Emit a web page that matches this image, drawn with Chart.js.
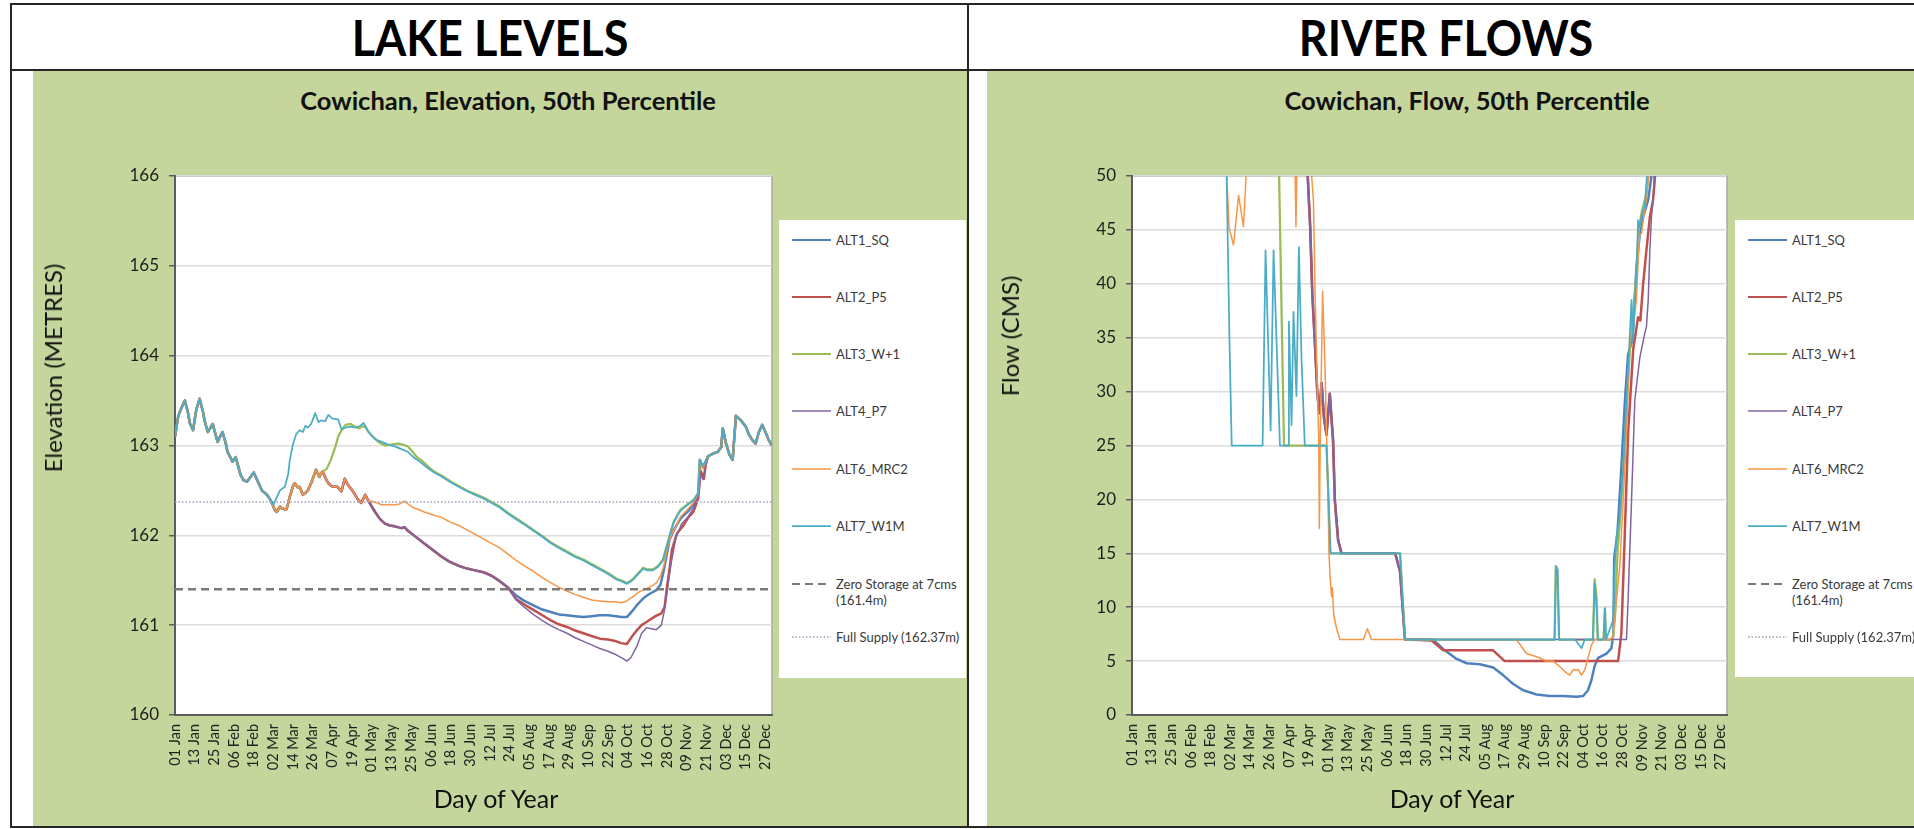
<!DOCTYPE html>
<html>
<head>
<meta charset="utf-8">
<title>Cowichan Lake Levels and River Flows</title>
<script src="https://cdn.jsdelivr.net/npm/chart.js@4.4.1/dist/chart.umd.min.js"></script>
<style>
  html, body { margin: 0; padding: 0; background: #fff; width: 1914px; height: 829px; overflow: hidden; font-family: Lato, "Noto Sans", sans-serif; }
  .rule { position: absolute; background: #262626; }
  .panel { position: absolute; background: #C4D69B; }
  .head { position: absolute; top: 12px; font-size: 50px; line-height: 50px; font-weight: 700; color: #000; white-space: nowrap; transform: translateX(-50%) scaleX(0.9); }
  .sub { position: absolute; top: 88px; font-size: 25.5px; line-height: 25.5px; font-weight: 700; color: #111; white-space: nowrap; transform: translateX(-50%); }
  .xtitle { position: absolute; top: 786px; font-size: 25px; line-height: 25px; color: #111; white-space: nowrap; transform: translateX(-50%); }
  .ytitle { position: absolute; font-size: 24px; line-height: 24px; color: #111; white-space: nowrap; transform: translate(-50%, -50%) rotate(-90deg); }
  canvas { position: absolute; }
  .legend { position: absolute; background: #fff; }
  .lg-item { position: absolute; left: 0; height: 16px; }
  .lg-item svg { position: absolute; left: 13px; top: 5px; }
  .lg-item span { position: absolute; left: 57px; top: 0; font-size: 13px; line-height: 16px; color: #3a3a3a; white-space: pre; }
</style>
</head>
<body>
  <!-- page frame -->
  <div class="rule" style="left:10px; top:3px; width:1904px; height:2px;"></div>
  <div class="rule" style="left:10px; top:69px; width:1904px; height:2px;"></div>
  <div class="rule" style="left:10px; top:826px; width:1904px; height:2px;"></div>
  <div class="rule" style="left:10px; top:3px; width:2px; height:825px;"></div>
  <div class="rule" style="left:967px; top:3px; width:2px; height:825px;"></div>

  <div class="head" style="left:490px;">LAKE LEVELS</div>
  <div class="head" style="left:1446px;">RIVER FLOWS</div>

  <div class="panel" style="left:33px; top:71px; width:934px; height:755px;"></div>
  <div class="panel" style="left:987px; top:71px; width:927px; height:755px;"></div>

  <div class="sub" style="left:508px;">Cowichan, Elevation, 50th Percentile</div>
  <div class="sub" style="left:1467px;">Cowichan, Flow, 50th Percentile</div>

  <canvas id="lakeChart" width="933" height="755" style="left:33px; top:72px;"></canvas>
  <canvas id="flowChart" width="927" height="755" style="left:987px; top:72px;"></canvas>

  <div class="ytitle" style="left:53px; top:368px;">Elevation (METRES)</div>
  <div class="ytitle" style="left:1010px; top:336px;">Flow (CMS)</div>
  <div class="xtitle" style="left:496px;">Day of Year</div>
  <div class="xtitle" style="left:1452px;">Day of Year</div>

  <div class="legend" id="lakeLegend" style="left:779px; top:220px; width:187px; height:458px;"></div>
  <div class="legend" id="flowLegend" style="left:1735px; top:220px; width:179px; height:457px;"></div>

<script>
// ---- axis ticks (day of year, non-leap year) ----
const tickDays = [1, 13, 25, 37, 49, 61, 73, 85, 97, 109, 121, 133, 145, 157, 169, 181,
                  193, 205, 217, 229, 241, 253, 265, 277, 289, 301, 313, 325, 337, 349, 361];
const tickLabels = ['01 Jan', '13 Jan', '25 Jan', '06 Feb', '18 Feb', '02 Mar', '14 Mar', '26 Mar',
                    '07 Apr', '19 Apr', '01 May', '13 May', '25 May', '06 Jun', '18 Jun', '30 Jun',
                    '12 Jul', '24 Jul', '05 Aug', '17 Aug', '29 Aug', '10 Sep', '22 Sep', '04 Oct',
                    '16 Oct', '28 Oct', '09 Nov', '21 Nov', '03 Dec', '15 Dec', '27 Dec'];

const seriesNames = ['ALT1_SQ', 'ALT2_P5', 'ALT3_W+1', 'ALT4_P7', 'ALT6_MRC2', 'ALT7_W1M'];
const refNames = ['Zero Storage at 7cms\n(161.4m)', 'Full Supply (162.37m)'];
const zeroStorage = 161.4;   // m
const fullSupply = 162.37;   // m

// ---- lake elevation, metres, as [day, value] ----
const lakeWinter = [[1,163.10],[3,163.33],[5,163.42],[7,163.50],[9,163.36],[10,163.25],[12,163.17],[14,163.40],
  [16,163.52],[18,163.38],[19,163.28],[21,163.15],[22,163.18],[24,163.24],[25,163.17],[27,163.04],[29,163.12],
  [30,163.15],[32,163.02],[33,162.93],[35,162.86],[36,162.82],[38,162.87],[40,162.74],[41,162.67],[43,162.61],
  [45,162.60],[47,162.65],[49,162.70],[51,162.62],[52,162.58],[54,162.50],[56,162.47],[58,162.43]];
const lakeSpringEarly = [[60,162.36],[62,162.28],[63,162.26],[65,162.32],[66,162.30],[68,162.29],[69,162.29],
  [71,162.43],[73,162.55],[74,162.58],[76,162.53],[77,162.54],[79,162.45],[81,162.48],[82,162.50],[84,162.58],
  [86,162.68],[87,162.73],[89,162.65],[90,162.69]];
const lakeSpringLate = [[91,162.71],[93,162.63],[94.5,162.58],[97,162.54],[100,162.54],[102.5,162.49],
  [104.5,162.63],[106.5,162.56],[109.5,162.49],[112.5,162.40],[114.5,162.36],[117,162.45],[119,162.38]];
const lakeSummerLow = [[121,162.32],[123,162.26],[126,162.18],[129,162.13],[132,162.11],[135,162.10],[139,162.08],
  [141,162.09],[143,162.05],[148,161.98],[153,161.91],[158,161.84],[163,161.77],[168,161.71],[174,161.66],
  [179,161.63],[184,161.61],[189,161.59],[194,161.55],[199,161.49],[204,161.42]];
const lakeTail = [[326,162.88],[329,162.91],[332,162.93],[334,162.98],[335,163.19],[337,163.02],[339,162.90],
  [341,162.84],[343,163.33],[346,163.28],[349,163.21],[351,163.12],[353,163.06],[355,163.02],[357,163.15],
  [359,163.23],[361,163.15],[363,163.06],[365,163.00]];

const lakeAlt1Fall = [[209,161.33],[214,161.27],[219.5,161.22],[224,161.18],[229.5,161.15],[235,161.12],[240,161.11],
  [245,161.10],[250,161.09],[255,161.10],[260,161.11],[265,161.11],[270,161.10],[273,161.09],[276.5,161.09],
  [279.5,161.15],[282.5,161.22],[285.5,161.28],[288,161.32],[290.5,161.35],[294.5,161.39],[297,161.45],
  [299,161.61],[301,161.80],[302.5,161.95],[305,162.05],[307,162.12],[309,162.18],[311,162.22],[314,162.27],
  [317,162.34],[320,162.47],[321,162.84],[323,162.75],[324,162.80]];
const lakeAlt2Fall = [[209,161.29],[214,161.23],[219.5,161.17],[225,161.11],[229.5,161.06],[235,161.01],[240,160.98],
  [245,160.94],[250,160.91],[255,160.88],[260,160.85],[265,160.84],[270,160.82],[273,160.80],[276.5,160.79],
  [279.5,160.87],[282,160.93],[285.5,161.00],[288,161.03],[290.5,161.06],[294,161.10],[297.5,161.13],
  [299.5,161.20],[301,161.43],[302.5,161.62],[304,161.84],[307,162.02],[311,162.11],[314,162.20],[317,162.26],
  [320,162.41],[321.5,162.72],[323.5,162.63],[324.5,162.78]];
const lakeAlt3Summer = [[91,162.71],[93.5,162.74],[96,162.84],[98.5,162.97],[100.5,163.10],[102.5,163.17],
  [105,163.23],[108,163.24],[111,163.21],[113,163.19],[115,163.21],[117,163.21],[119,163.15],[121,163.11],
  [125,163.04],[129,163.00],[133,163.01],[137,163.02],[140,163.01],[143,162.99],[145,162.95],[148.5,162.87],
  [151,162.84],[155,162.77],[159,162.71],[164,162.66],[169,162.60],[174,162.55],[179,162.50],[184,162.46],
  [189,162.42],[194,162.37],[199,162.32],[204,162.25],[209,162.19],[214,162.13],[219.5,162.06],[224.5,162.00],
  [229.5,161.93],[235,161.87],[240,161.82],[245,161.77],[250,161.73],[255,161.68],[260,161.63],[265,161.58],
  [270,161.52],[273,161.50],[276.5,161.47],[278.5,161.49],[280.5,161.52],[283.5,161.58],[286.5,161.64],
  [289,161.62],[292.5,161.62],[295.5,161.66],[298.5,161.73],[300.5,161.86],[303,162.02],[305,162.15],
  [309,162.28],[313,162.34],[317,162.39],[320,162.47],[321,162.82],[323,162.76],[324,162.80]];
const lakeAlt4Fall = [[209,161.28],[214,161.20],[219.5,161.12],[225,161.05],[229.5,161.00],[235,160.95],[240,160.91],
  [245,160.86],[250,160.82],[255,160.78],[260,160.74],[265,160.71],[270,160.67],[274,160.63],[276.5,160.60],
  [279,160.64],[282.5,160.76],[285.5,160.91],[288.5,160.97],[291.5,160.96],[294.5,160.95],[297.5,161.00],
  [299.5,161.17],[301.5,161.43],[303.5,161.69],[306.5,161.98],[310,162.13],[314,162.21],[317,162.30],
  [320,162.45],[321.5,162.69],[323,162.62],[324.5,162.76]];
const lakeAlt6Summer = [[121,162.38],[123,162.37],[127,162.34],[131,162.34],[135,162.34],[138,162.35],[141,162.38],
  [143,162.35],[146,162.31],[149,162.29],[153,162.26],[158,162.23],[163.5,162.20],[168.5,162.15],[174,162.11],
  [179,162.06],[184,162.01],[189,161.96],[194,161.91],[199,161.86],[204,161.79],[209,161.72],[214,161.66],
  [219.5,161.60],[225,161.53],[229.5,161.48],[235,161.42],[240,161.38],[245,161.34],[250,161.31],[255,161.28],
  [260,161.27],[265,161.26],[270,161.26],[273,161.25],[276.5,161.27],[280.5,161.32],[284,161.37],[288.5,161.41],
  [292,161.44],[294.5,161.47],[297,161.55],[299,161.66],[301.5,161.88],[304,162.02],[306,162.08],[309,162.20],
  [313,162.28],[317,162.36],[320,162.46],[321,162.80],[323,162.74],[324,162.79]];
const lakeAlt7Rest = [[60,162.38],[61,162.34],[63,162.42],[65,162.50],[68,162.54],[70,162.68],[71,162.84],[73,163.02],
  [75,163.13],[77,163.17],[79,163.15],[80.5,163.22],[82,163.20],[84,163.24],[86.5,163.36],[88.5,163.26],[90,163.28],
  [92.5,163.27],[94.5,163.34],[97,163.30],[100.5,163.29],[102.5,163.18],[105,163.20],[108,163.21],[111,163.20],
  [114,163.22],[116,163.25],[119,163.15],[123,163.07],[127,163.04],[131,163.01],[135,162.99],[139,162.96],
  [143,162.93],[147,162.86],[151,162.81],[155,162.75],[159,162.70],[164,162.65],[169,162.59],[174,162.54],
  [179,162.49],[184,162.45],[189,162.41],[194,162.36],[199,162.31],[204,162.24],[209,162.18],[214,162.12],
  [219.5,162.05],[224.5,161.99],[229.5,161.92],[235,161.86],[240,161.81],[245,161.76],[250,161.72],[255,161.67],
  [260,161.62],[265,161.57],[270,161.51],[273,161.49],[276.5,161.46],[278.5,161.48],[280.5,161.51],[283.5,161.57],
  [286.5,161.63],[289,161.61],[292.5,161.61],[295.5,161.65],[298.5,161.72],[300.5,161.85],[303,162.02],
  [305,162.14],[309,162.27],[313,162.33],[317,162.39],[320,162.46],[321,162.84],[323,162.77],[324,162.81]];

// ---- river flow, m3/s, as [day, value]; 75 marks flows above the 50 cms axis top ----
const flowAlt1 = [[1,75],[108.5,50],[110,45.3],[111.3,39.1],[113,34.2],[114.4,29.8],[115.6,28],[117,30.8],
  [118.5,27.5],[120,26],[122,29.8],[123.1,27.4],[124,25.5],[125.1,19.9],[127.1,16.2],[129.2,15],[162,15],
  [165,13.3],[168,7],[185,7],[191.5,6.1],[199.6,5.2],[205.7,4.8],[213.8,4.7],[222,4.4],[228,3.7],[234,2.9],
  [240.3,2.3],[248.5,1.9],[256.6,1.76],[264.8,1.76],[272.9,1.7],[277,1.76],[280,2.3],[282,3.2],[284.1,4.6],
  [286.2,5.3],[291.3,5.7],[294.3,6.2],[295.5,7.5],[296,14.6],[298,16.9],[300.4,23],[302.5,29],[304.5,33.5],
  [306.6,34.5],[307.6,36],[309.6,41.6],[311.7,44.7],[313.7,46.2],[316.8,47.8],[318.8,50],[330,75],[365,75]];
const flowAlt2 = [[1,75],[108.5,50],[110,45.3],[111.3,39.1],[113,34.2],[114.4,29.8],[115.6,28],[117,30.8],
  [118.5,27.5],[120,26],[122,29.8],[123.1,27.4],[124,25.5],[125.1,19.9],[127.1,16.2],[129.2,15],[162,15],
  [165,13.3],[168,7],[184.3,6.9],[191.4,6.0],[221.9,6.0],[229,5.0],[298.4,5.0],[300.4,7.6],[302.5,16.9],
  [304.5,26.1],[307.6,33.9],[310.6,36.9],[312,36.6],[313.7,40],[315.7,43.1],[317.8,46.2],[319.8,47.8],
  [321,50],[330,75],[365,75]];
const flowAlt3 = [[1,75],[91,50],[94,25],[120,25],[122.4,15],[165,15],[168,7],[259.5,7],[260.3,13.8],[261.3,13.5],
  [262.3,7],[283,7],[284,12.6],[285.2,11],[286,7],[289.5,7],[290.3,9.9],[291,7],[295,7],[296.5,9],[298,15],
  [300,19],[302,24],[304,29.5],[306,35],[308,38],[309.6,41],[311,45],[313,46.8],[315.5,48.2],[317,50],
  [330,75],[365,75]];
const flowAlt4 = [[1,75],[108.5,50],[110,45.3],[111.3,39.1],[113,34.2],[114.4,29.8],[115.6,28],[117,30.8],
  [118.5,27.5],[120,26],[122,29.8],[123.1,27.4],[124,25.5],[125.1,19.9],[127.1,16.2],[129.2,15],[162,15],
  [165,13.3],[168,7],[303.5,7],[304.5,10.7],[306.6,19.9],[308.6,29.2],[311.7,33.2],[314.7,35.4],[315.7,36],
  [316.8,38.5],[317.8,43.1],[318.8,46.2],[319.8,47.8],[320.5,50],[330,75],[365,75]];
const flowAlt6 = [[1,75],[59,50],[60.4,45.2],[63.1,43.6],[66.2,48.2],[69.2,45.3],[70.8,50],[85,75],[100.8,50],
  [101.3,45.3],[101.8,50],[106,75],[110.9,50],[112,47.7],[113,39.1],[114.5,29.8],[115.2,26],[115.6,17.3],
  [116.2,26],[117.6,39.3],[119,32.7],[120.1,25.5],[120.8,21.5],[121.5,15],[122.3,12.5],[123.1,11],[123.6,11.8],
  [124.4,9.3],[126.2,8],[128.2,7],[142.5,7],[145,8],[147.5,7],[236.2,7],[242.3,5.7],[248.5,5.4],[254.6,5.0],
  [258.6,5.0],[262.7,4.5],[266.8,3.9],[268.8,3.7],[270.9,4.2],[274,4.2],[276,3.7],[278,4.2],[280,5.3],
  [282.1,6.5],[284.1,7],[293.3,7],[295.4,7.3],[297.4,10.7],[299.4,13.8],[301.5,19.9],[303.5,26.1],[305.5,34.8],
  [307.6,36],[309.6,38.5],[311.3,44.4],[312.7,44.7],[314.7,46.9],[315.7,47.8],[317,50],[330,75],[365,75]];
const flowAlt7 = [[1,75],[58.9,50],[60.6,35],[62,25],[80.9,25],[82.7,43.1],[85.8,26.4],[87.6,43.1],[91.5,25],
  [96.6,25],[97,36.5],[98.6,26.9],[99.8,37.4],[101.6,29.6],[103.1,43.4],[104.7,33.1],[106.7,25],[120,25],
  [122.4,15],[165,15],[168,7],[259.5,7],[260.3,13.8],[261.3,13.5],[262.3,7],[272,7],[276,6.2],[278,7],[283,7],
  [284,12.2],[285.2,10],[286,7],[289.5,7],[290.3,9.9],[291,7],[295.4,8.8],[296.4,14.1],[297.4,16.5],[299.4,18.4],
  [301.5,23],[303.5,29.2],[305.1,33.9],[306.6,38.5],[307.6,34.8],[308.6,38.5],[309.6,41],[310.6,45.9],
  [311.7,45.3],[313,46.5],[314.7,47.2],[316,50],[330,75],[365,75]];

// ---- drawing ----
Chart.defaults.font.family = 'Lato';

const seriesColors = ['#4F81BD', '#C0504D', '#9BBB59', '#8064A2', '#F79646', '#4BACC6'];
const seriesWidths = [2.5, 2.5, 2.25, 1.5, 1.5, 1.75];
const zeroStyle = { color: '#7A7A7A', width: 2.5, dash: [8, 5] };
const fullStyle = { color: '#9D9DB8', width: 1.5, dash: [1.5, 2] };

function lineSet(label, pairs, color, width, order, dash) {
  return {
    label,
    data: pairs.map(([x, y]) => ({ x, y })),
    borderColor: color,
    backgroundColor: color,
    borderWidth: width,
    borderDash: dash || [],
    borderJoinStyle: 'round',
    pointRadius: 0,
    pointHoverRadius: 0,
    tension: 0,
    fill: false,
    order
  };
}

function buildDatasets(seriesPairs) {
  const sets = seriesPairs.map((pairs, i) =>
    lineSet(seriesNames[i], pairs, seriesColors[i], seriesWidths[i], 8 - i));
  sets.push(lineSet(refNames[0], [[1, zeroStorage], [365, zeroStorage]], zeroStyle.color, zeroStyle.width, 2, zeroStyle.dash));
  sets.push(lineSet(refNames[1], [[1, fullSupply], [365, fullSupply]], fullStyle.color, fullStyle.width, 1, fullStyle.dash));
  return sets;
}

const plotFrame = {
  id: 'plotFrame',
  beforeDraw(chart) {
    const { ctx, chartArea: a } = chart;
    ctx.save();
    ctx.fillStyle = '#ffffff';
    ctx.fillRect(a.left, a.top, a.right - a.left, a.bottom - a.top);
    ctx.strokeStyle = '#a7ab9c';
    ctx.lineWidth = 1.5;
    ctx.beginPath();
    ctx.moveTo(a.left, a.top);
    ctx.lineTo(a.right, a.top);
    ctx.lineTo(a.right, a.bottom);
    ctx.stroke();
    ctx.restore();
  }
};

function makeChart(canvasId, datasets, yRange, frame) {
  return new Chart(document.getElementById(canvasId), {
    type: 'line',
    data: { datasets },
    plugins: [plotFrame],
    options: {
      responsive: false,
      animation: false,
      events: [],
      layout: { padding: { left: 0, top: frame.top, right: frame.right, bottom: 0 } },
      plugins: { legend: { display: false }, tooltip: { enabled: false } },
      scales: {
        x: {
          type: 'linear',
          min: 1,
          max: 365,
          afterBuildTicks: (scale) => { scale.ticks = tickDays.map(v => ({ value: v })); },
          afterFit: (scale) => { scale.height = frame.xHeight; },
          grid: { display: false, drawTicks: false },
          border: { display: true, color: '#5c5c5c', width: 2 },
          ticks: {
            autoSkip: false,
            minRotation: 90,
            maxRotation: 90,
            padding: 9,
            color: '#222',
            font: { size: 14.5 },
            callback: (value, index) => tickLabels[index]
          }
        },
        y: {
          min: yRange.min,
          max: yRange.max,
          afterFit: (scale) => { scale.width = frame.yWidth; },
          grid: { color: '#dcdcdc', lineWidth: 1.5, tickLength: 6, tickColor: '#5c5c5c', tickWidth: 1.5 },
          border: { display: true, color: '#5c5c5c', width: 2 },
          ticks: { stepSize: yRange.step, padding: 10, color: '#1e1e1e', font: { size: 17 } }
        }
      }
    }
  });
}

const lakeChart = makeChart('lakeChart', buildDatasets([
  [...lakeWinter, ...lakeSpringEarly, ...lakeSpringLate, ...lakeSummerLow, ...lakeAlt1Fall, ...lakeTail],
  [...lakeWinter, ...lakeSpringEarly, ...lakeSpringLate, ...lakeSummerLow, ...lakeAlt2Fall, ...lakeTail],
  [...lakeWinter, ...lakeSpringEarly, ...lakeAlt3Summer, ...lakeTail],
  [...lakeWinter, ...lakeSpringEarly, ...lakeSpringLate, ...lakeSummerLow, ...lakeAlt4Fall, ...lakeTail],
  [...lakeWinter, ...lakeSpringEarly, ...lakeSpringLate, ...lakeAlt6Summer, ...lakeTail],
  [...lakeWinter, ...lakeAlt7Rest, ...lakeTail]
]), { min: 160, max: 166, step: 1 }, { top: 104, right: 194, yWidth: 142, xHeight: 112 });

const flowChart = makeChart('flowChart', buildDatasets([
  flowAlt1, flowAlt2, flowAlt3, flowAlt4, flowAlt6, flowAlt7
]), { min: 0, max: 50, step: 5 }, { top: 104, right: 187, yWidth: 145, xHeight: 112 });

// ---- HTML legends generated from each chart's datasets ----
const legendRowCenters = [20, 77, 134, 191, 249, 306, 364, 417];

function buildLegend(boxId, chart) {
  const box = document.getElementById(boxId);
  const ns = 'http://www.w3.org/2000/svg';
  chart.data.datasets.forEach((ds, i) => {
    const item = document.createElement('div');
    item.className = 'lg-item';
    item.style.top = (legendRowCenters[i] - 8) + 'px';
    const svg = document.createElementNS(ns, 'svg');
    svg.setAttribute('width', '39');
    svg.setAttribute('height', '6');
    const line = document.createElementNS(ns, 'line');
    line.setAttribute('x1', '0'); line.setAttribute('y1', '3');
    line.setAttribute('x2', '39'); line.setAttribute('y2', '3');
    line.setAttribute('stroke', ds.borderColor);
    line.setAttribute('stroke-width', Math.min(ds.borderWidth, 2.2));
    if (ds.borderDash.length) line.setAttribute('stroke-dasharray', ds.borderDash.join(' '));
    svg.appendChild(line);
    const text = document.createElement('span');
    text.textContent = ds.label;
    item.appendChild(svg);
    item.appendChild(text);
    box.appendChild(item);
  });
}
buildLegend('lakeLegend', lakeChart);
buildLegend('flowLegend', flowChart);
</script>
</body>
</html>
